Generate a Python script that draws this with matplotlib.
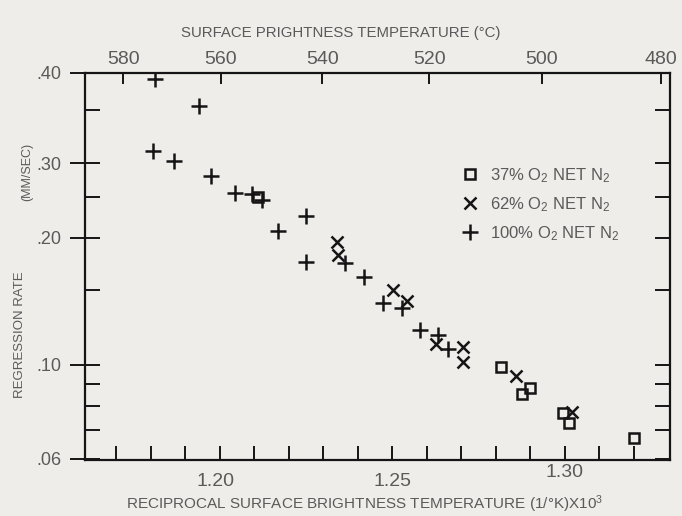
import matplotlib
matplotlib.use('Agg')
import matplotlib.pyplot as plt
from matplotlib.transforms import ScaledTranslation
from matplotlib.lines import Line2D
from matplotlib import font_manager

_names = {f.name for f in font_manager.fontManager.ttflist}
MAIN = 'Liberation Sans Narrow' if 'Liberation Sans Narrow' in _names else 'Liberation Sans'
plt.rcParams['font.family'] = [MAIN, 'DejaVu Sans']
plt.rcParams['mathtext.fontset'] = 'custom'
plt.rcParams['mathtext.rm'] = MAIN
plt.rcParams['mathtext.it'] = MAIN

# ---------------- data ----------------
x_100 = [1.1812, 1.1941, 1.1806, 1.1868, 1.1975, 1.2044, 1.2093, 1.2123, 1.2250,
         1.2168, 1.2250, 1.2363, 1.2418, 1.2472, 1.2529, 1.2580, 1.2633, 1.2662]
y_100 = [0.474, 0.410, 0.321, 0.304, 0.280, 0.255, 0.253, 0.2455, 0.225,
         0.207, 0.1755, 0.174, 0.1615, 0.140, 0.136, 0.121, 0.1177, 0.1089]

x_62 = [1.2339, 1.2344, 1.2503, 1.2542, 1.2627, 1.2706, 1.2706, 1.2860, 1.3020]
y_62 = [0.195, 0.182, 0.150, 0.142, 0.112, 0.1105, 0.1018, 0.0942, 0.0776]

x_37 = [1.2112, 1.2815, 1.2899, 1.2877, 1.2996, 1.3013, 1.3200]
y_37 = [0.250, 0.0991, 0.0881, 0.0852, 0.0769, 0.0728, 0.0673]

legend_labels = ['37% O$_2$ NET N$_2$', '62% O$_2$ NET N$_2$', '100% O$_2$ NET N$_2$']

bottom_ticks = [1.17, 1.18, 1.19, 1.20, 1.21, 1.22, 1.23, 1.24, 1.25, 1.26,
                1.27, 1.28, 1.29, 1.30, 1.31, 1.32]
bottom_labels = ['', '', '', '1.20', '', '', '', '', '1.25', '', '', '', '', '1.30', '', '']

y_major = [0.06, 0.10, 0.20, 0.30, 0.491]
y_major_labels = ['.06', '.10', '.20', '.30', '.40']
y_minor = [0.07, 0.08, 0.09, 0.15, 0.25, 0.40]

top_temps_c = [580, 560, 540, 520, 500, 480]

XLIM = (1.1610, 1.3305)
YLIM = (0.0596, 0.491)

BG = '#efedea'
TXT = '#5a5a5a'
INK = '#151515'

# ---------------- figure ----------------
fig = plt.figure(figsize=(6.82, 5.16), dpi=100, facecolor=BG)
ax = fig.add_axes([85/682, 1 - 460/516, (670 - 85)/682, (460 - 72.7)/516])
ax.set_facecolor(BG)
ax.set_yscale('log')
ax.set_xlim(*XLIM)
ax.set_ylim(*YLIM)

mk = dict(color=INK, linestyle='none', markeredgewidth=1.8)
ax.plot(x_37, y_37, marker='s', markersize=6.5, markerfacecolor='none', **mk)
ax.plot(x_62, y_62, marker='x', markersize=9, **mk)
ax.plot(x_100, y_100, marker='+', markersize=12, **mk)

for s in ax.spines.values():
    s.set_linewidth(1.6)
    s.set_color(INK)

# bottom axis
ax.set_xticks(bottom_ticks)
ax.set_xticklabels(bottom_labels)
ax.tick_params(axis='x', which='major', direction='in', length=10, width=1.4,
               color=INK, labelsize=14, labelcolor=TXT, pad=9.5, top=False)
ax.xaxis.set_minor_locator(matplotlib.ticker.NullLocator())
lbls = ax.get_xticklabels()
lbls[13].set_transform(lbls[13].get_transform() +
                       ScaledTranslation(0, 9/100, fig.dpi_scale_trans))
lbls[3].set_transform(lbls[3].get_transform() +
                      ScaledTranslation(-4/100, 0, fig.dpi_scale_trans))

# left axis
ax.set_yticks(y_major)
ax.set_yticklabels(y_major_labels)
ax.set_yticks(y_minor, minor=True)
ax.yaxis.set_minor_formatter(matplotlib.ticker.NullFormatter())
ax.tick_params(axis='y', which='major', direction='inout', length=22, width=1.4,
               color=INK, labelsize=13, labelcolor=TXT, pad=6, right=False)
ax.tick_params(axis='y', which='minor', direction='in', length=11, width=1.4,
               color=INK, right=False)

# right axis ticks (inward only)
axr = ax.twinx()
axr.set_yscale('log')
axr.set_ylim(*YLIM)
axr.set_yticks(y_major[:-1] + y_minor)
axr.yaxis.set_minor_locator(matplotlib.ticker.NullLocator())
axr.tick_params(axis='y', direction='in', length=11, width=1.4, color=INK,
                labelright=False)
for s in axr.spines.values():
    s.set_visible(False)

# top axis: surface brightness temperature in deg C
axt = ax.twiny()
axt.set_xlim(*XLIM)
axt.set_xticks([1000.0 / (t + 273.15) for t in top_temps_c])
axt.set_xticklabels([str(t) for t in top_temps_c])
axt.tick_params(axis='x', direction='in', length=8, width=1.4, color=INK,
                labelsize=14, labelcolor=TXT, pad=3.5)
for s in axt.spines.values():
    s.set_visible(False)

# legend
handles = [
    Line2D([], [], marker='s', markersize=6.5, markerfacecolor='none', **mk),
    Line2D([], [], marker='x', markersize=8, **mk),
    Line2D([], [], marker='+', markersize=11, **mk),
]
leg = ax.legend(handles, legend_labels, loc='upper left',
                bbox_to_anchor=((462 - 85)/585, 1 - (166 - 72.7)/387.3),
                frameon=False, fontsize=12, handlelength=1.0, handletextpad=0.7,
                labelspacing=0.62, borderpad=0, borderaxespad=0)
for t in leg.get_texts():
    t.set_color(TXT)

# axis titles
fig.text(341/682, 1 - 33/516, 'SURFACE PRIGHTNESS TEMPERATURE (°C)',
         ha='center', va='center', fontsize=10.8, color=TXT)
fig.text(365/682, 1 - 504/516, 'RECIPROCAL SURFACE BRIGHTNESS TEMPERATURE (1/°K)X10$^3$',
         ha='center', va='center', fontsize=11, color=TXT)
fig.text(20/682, 1 - 335/516, 'REGRESSION RATE', rotation=90,
         ha='center', va='center', fontsize=9.5, color=TXT)
fig.text(27/682, 1 - 172/516, '(MM/SEC)', rotation=90,
         ha='center', va='center', fontsize=9, color=TXT)

fig.savefig('out.png', dpi=100, facecolor=BG)
